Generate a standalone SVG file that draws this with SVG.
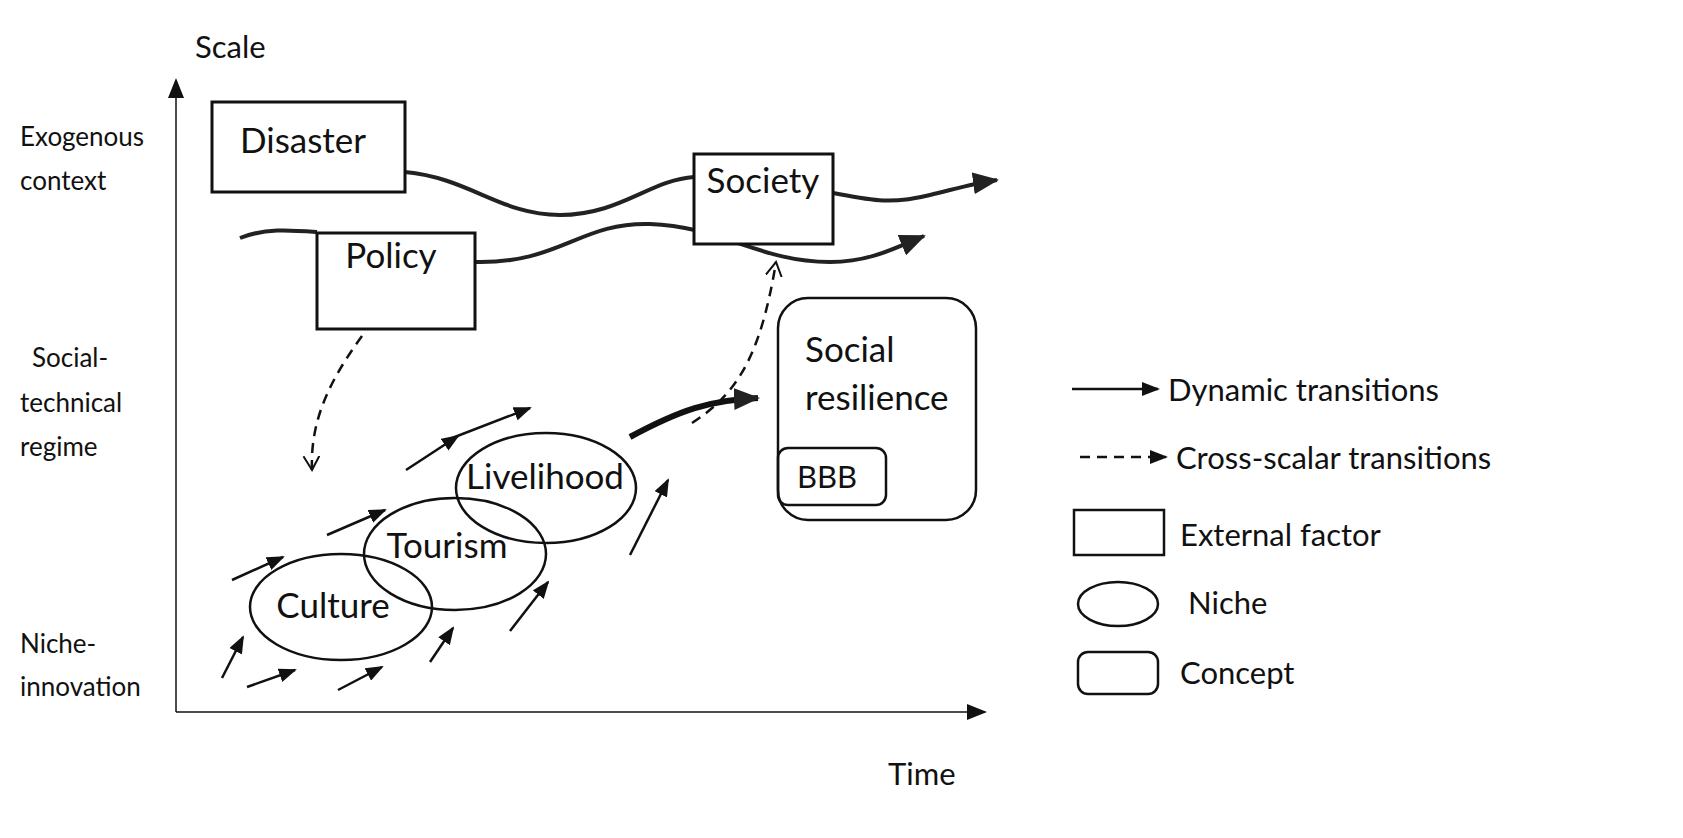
<svg xmlns="http://www.w3.org/2000/svg" width="1683" height="838" viewBox="0 0 1683 838">
<style>
text{font-family:Lato,"Open Sans","Liberation Sans",sans-serif;fill:#111}
.l{font-size:26px}.n{font-size:35px}.g{font-size:31px}
.b{fill:#fff;stroke:#111;stroke-width:3}
.w{fill:none;stroke:#222;stroke-width:4}
.a{fill:none;stroke:#111;stroke-width:2.5;marker-end:url(#h)}
.d{fill:none;stroke:#111;stroke-width:2.5;stroke-dasharray:10 7}
</style>
<defs>
<marker id="h" markerWidth="18" markerHeight="14" refX="16" refY="7" orient="auto" markerUnits="userSpaceOnUse" viewBox="0 0 18 14"><path d="M0,0L18,7L0,14z" fill="#111"/></marker>
<marker id="hs" markerWidth="20" markerHeight="16" refX="18" refY="8" orient="auto" markerUnits="userSpaceOnUse" viewBox="0 0 20 16"><path d="M0,0L20,8L0,16z" fill="#111"/></marker>
<marker id="hb" markerWidth="26" markerHeight="22" refX="24" refY="11" orient="auto" markerUnits="userSpaceOnUse" viewBox="0 0 26 22"><path d="M0,0L26,11L0,22z" fill="#222"/></marker>
<marker id="ho" markerWidth="16" markerHeight="18" refX="14" refY="9" orient="auto" markerUnits="userSpaceOnUse" viewBox="0 0 16 18"><path d="M0,1L14,9L0,17" fill="none" stroke="#111" stroke-width="2"/></marker>
</defs>
<rect width="1683" height="838" fill="#fff"/>
<g id="axes">
<line x1="176" y1="712" x2="176" y2="80" stroke="#111" stroke-width="1.5" marker-end="url(#hs)"/>
<line x1="176" y1="712" x2="985" y2="712" stroke="#111" stroke-width="1.5" marker-end="url(#hs)"/>
<text x="195" y="58" class="g">Scale</text>
<text x="888" y="785" class="g">Time</text>
<text x="20" y="146" class="l">Exogenous</text><text x="20" y="190" class="l">context</text>
<text x="32" y="367" class="l">Social-</text><text x="20" y="412" class="l">technical</text><text x="20" y="456" class="l">regime</text>
<text x="20" y="653" class="l">Niche-</text><text x="20" y="696" class="l">innovation</text>
</g>
<g id="connectors">
<path class="w" d="M405,172 C470,178 500,215 560,215 C620,215 650,180 694,177"/>
<path class="w" d="M833,193 C870,200 890,205 930,195 C955,189 975,183 997,180" marker-end="url(#hb)"/>
<path class="w" d="M240,238 C265,228 290,230 317,232"/>
<path class="w" d="M475,262 C560,264 580,222 650,224 C720,226 760,262 830,262 C870,262 895,248 924,236" marker-end="url(#hb)"/>
<path class="d" d="M362,336 C330,380 310,420 312,470" marker-end="url(#ho)"/>
<path class="d" d="M692,423 C735,395 760,360 776,262" marker-end="url(#ho)"/>
<path d="M630,437 C680,410 710,400 758,398" fill="none" stroke="#111" stroke-width="6" marker-end="url(#hb)"/>
<path class="a" d="M232,580L283,557"/><path class="a" d="M327,535L385,510"/>
<path class="a" d="M406,470L458,436"/><path class="a" d="M447,440L530,408"/>
<path class="a" d="M222,678L243,637"/><path class="a" d="M247,687L295,670"/>
<path class="a" d="M338,690L382,667"/><path class="a" d="M430,662L453,628"/>
<path class="a" d="M510,631L548,582"/><path class="a" d="M630,555L668,480"/>
</g>
<g id="disaster"><rect class="b" x="212" y="102" width="193" height="90"/><text x="240" y="153" class="n">Disaster</text></g>
<g id="society"><rect class="b" x="694" y="154" width="139" height="90"/><text x="763" y="193" class="n" text-anchor="middle">Society</text></g>
<g id="policy"><rect class="b" x="317" y="233" width="158" height="96"/><text x="391" y="268" class="n" text-anchor="middle">Policy</text></g>
<g id="resilience"><rect x="778" y="298" width="198" height="222" rx="30" fill="none" stroke="#111" stroke-width="2.5"/>
<text x="805" y="362" class="n">Social</text><text x="805" y="410" class="n">resilience</text></g>
<g id="bbb"><rect x="778" y="448" width="108" height="57" rx="10" fill="none" stroke="#111" stroke-width="2.5"/><text x="797" y="488" class="g">BBB</text></g>
<g id="culture"><ellipse cx="341" cy="607" rx="91" ry="53" fill="none" stroke="#111" stroke-width="2.5"/><text x="333" y="618" class="n" text-anchor="middle">Culture</text></g>
<g id="tourism"><ellipse cx="455" cy="554" rx="91" ry="56" fill="none" stroke="#111" stroke-width="2.5"/><text x="447" y="558" class="n" text-anchor="middle">Tourism</text></g>
<g id="livelihood"><ellipse cx="546" cy="488" rx="90" ry="55" fill="none" stroke="#111" stroke-width="2.5"/><text x="545" y="489" class="n" text-anchor="middle">Livelihood</text></g>
<g id="legend">
<line x1="1072" y1="389" x2="1158" y2="389" stroke="#111" stroke-width="2.5" marker-end="url(#h)"/>
<text x="1168" y="401" class="g">Dynamic transitions</text>
<line x1="1080" y1="457" x2="1166" y2="457" class="d" marker-end="url(#h)"/>
<text x="1176" y="469" class="g">Cross-scalar transitions</text>
<rect x="1074" y="510" width="90" height="45" fill="none" stroke="#111" stroke-width="2.5"/>
<text x="1180" y="546" class="g">External factor</text>
<ellipse cx="1118" cy="604" rx="40" ry="22" fill="none" stroke="#111" stroke-width="2.5"/>
<text x="1188" y="614" class="g">Niche</text>
<rect x="1078" y="652" width="80" height="42" rx="10" fill="none" stroke="#111" stroke-width="2.5"/>
<text x="1180" y="684" class="g">Concept</text>
</g>
</svg>
